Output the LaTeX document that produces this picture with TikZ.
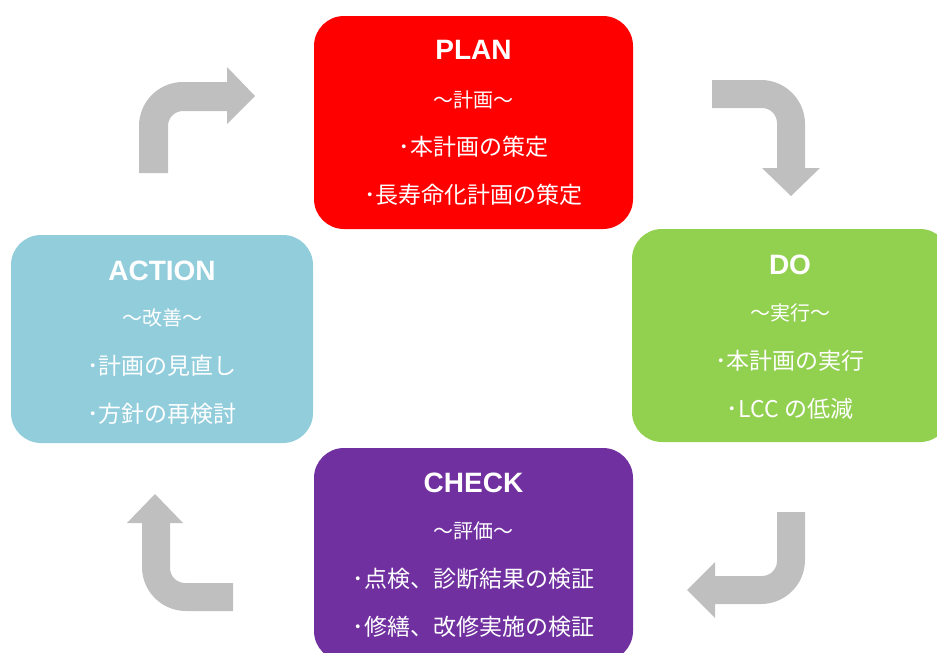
\documentclass[tikz,border=0pt]{standalone}
\usepackage{fontspec}
\setmainfont{Liberation Sans}
\newfontfamily\jp{Noto Sans CJK JP}
\definecolor{cred}{HTML}{FF0000}
\definecolor{cgreen}{HTML}{92D050}
\definecolor{cblue}{HTML}{92CDDC}
\definecolor{cpurple}{HTML}{7030A0}
\definecolor{cgray}{HTML}{BFBFBF}
\tikzset{
  box/.style={rounded corners=30pt, draw=none, inner sep=0pt},
  ttl/.style={text=white, font=\fontsize{28}{30}\selectfont\bfseries, inner sep=0pt},
  sub/.style={text=white, font=\jp\fontsize{20}{22}\selectfont, inner sep=0pt},
  itm/.style={text=white, font=\jp\fontsize{23}{25}\selectfont, inner sep=0pt},
  bent/.style={fill=cgray, draw=none}
}
\begin{document}
\begin{tikzpicture}[x=1pt,y=-1pt]
\useasboundingbox (0,0) rectangle (937,653);
\clip (0,0) rectangle (937,653);
% boxes
\node[box, fill=cred, minimum width=319pt, minimum height=213pt] (plan) at (473.5,122.5) {};
\node[box, fill=cgreen, minimum width=318pt, minimum height=213pt] (do) at (791,335.5) {};
\node[box, fill=cblue, minimum width=302pt, minimum height=208pt] (act) at (162,339) {};
\node[box, fill=cpurple, minimum width=319pt, minimum height=213pt] (chk) at (473.5,554.5) {};
% PLAN text
\node[ttl] (plant) at (473.5,50) {PLAN};
\node[sub] (plans) at (473.5,100) {～計画～};
\node[itm] (plan1) at (473.5,147) {･本計画の策定};
\node[itm] (plan2) at (473.5,195) {･長寿命化計画の策定};
% DO text
\node[ttl] (dot) at (790,265) {DO};
\node[sub] (dos) at (790,313) {～実行～};
\node[itm] (do1) at (790,361) {･本計画の実行};
\node[itm] (do2) at (790,409) {･LCC の低減};
% ACTION text
\node[ttl] (actt) at (162,271) {ACTION};
\node[sub] (acts) at (162,318) {～改善～};
\node[itm] (act1) at (162,366) {･計画の見直し};
\node[itm] (act2) at (162,414) {･方針の再検討};
% CHECK text
\node[ttl] (chkt) at (473.5,483) {CHECK};
\node[sub] (chks) at (473.5,531) {～評価～};
\node[itm] (chk1) at (473.5,579) {･点検、診断結果の検証};
\node[itm] (chk2) at (473.5,627) {･修繕、改修実施の検証};
% bent arrows
\fill[bent] (139,173) -- (139,126) .. controls (139,101.7) and (158.7,82) .. (183,82)
  -- (227,82) -- (227,67) -- (255,96) -- (227,124) -- (227,111) -- (183,111)
  .. controls (174.7,111) and (168,117.7) .. (168,126) -- (168,173) -- cycle;
\fill[bent] (712,80) -- (761,80) .. controls (785.3,80) and (805,99.7) .. (805,124)
  -- (805,168) -- (820,168) -- (791,196) -- (762,168) -- (777,168) -- (777,123)
  .. controls (777,114.7) and (770.3,108) .. (762,108) -- (712,108) -- cycle;
\fill[bent] (805,512) -- (805,560) .. controls (805,584.3) and (785.3,604) .. (761,604)
  -- (715,604) -- (715,618) -- (687,590) -- (715,562) -- (715,576) -- (762,576)
  .. controls (770.3,576) and (777,569.3) .. (777,561) -- (777,512) -- cycle;
\fill[bent] (233,611) -- (186,611) .. controls (161.7,611) and (142,591.3) .. (142,567)
  -- (142,523) -- (127,523) -- (155,494) -- (183,523) -- (170,523) -- (170,568)
  .. controls (170,576.3) and (176.7,583) .. (185,583) -- (233,583) -- cycle;
\end{tikzpicture}
\end{document}
